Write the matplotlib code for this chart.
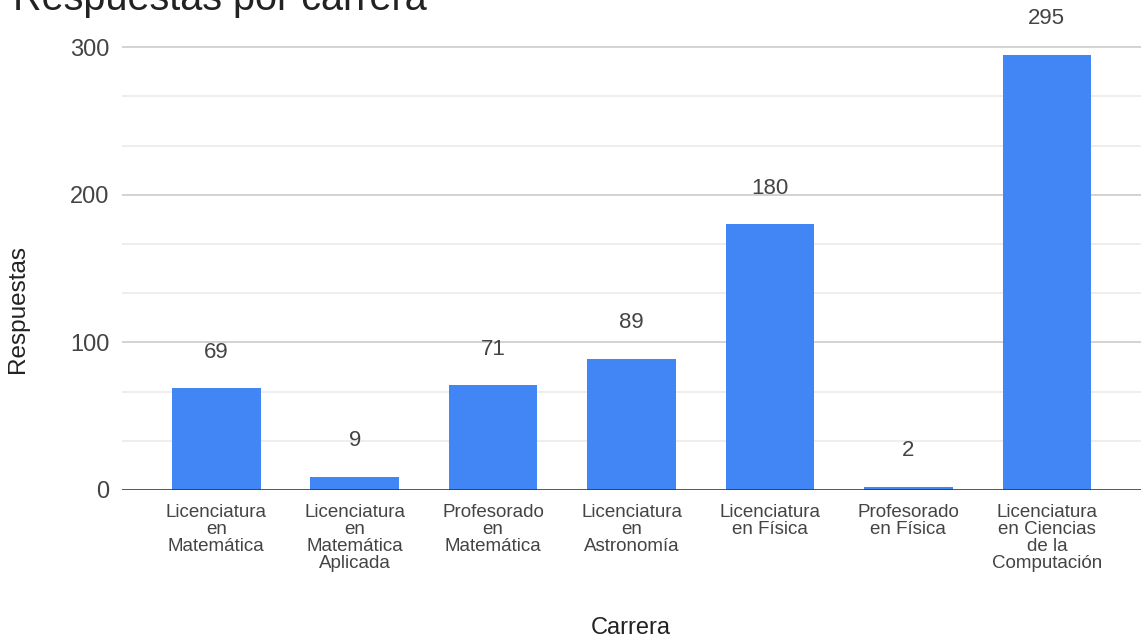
import matplotlib.pyplot as plt
from matplotlib.ticker import MultipleLocator

plt.rcParams['font.family'] = ['Liberation Sans', 'DejaVu Sans']

carreras = ['Licenciatura\nen\nMatemática',
            'Licenciatura\nen\nMatemática\nAplicada',
            'Profesorado\nen\nMatemática',
            'Licenciatura\nen\nAstronomía',
            'Licenciatura\nen Física',
            'Profesorado\nen Física',
            'Licenciatura\nen Ciencias\nde la\nComputación']
respuestas = [69, 9, 71, 89, 180, 2, 295]

fig = plt.figure(figsize=(11.41, 6.43), dpi=100)
ax = fig.add_axes([0.107, 0.238, 0.893, 0.762])

x = range(len(carreras))
bars = ax.bar(x, respuestas, width=0.64, color='#4285f4', zorder=3)
for b, v in zip(bars, respuestas):
    ax.annotate(str(v), (b.get_x() + b.get_width() / 2, v), xytext=(0, 26),
                textcoords='offset points', ha='center', va='center',
                fontsize=16, color='#444444')

ax.set_xlim(-0.68, len(carreras) - 1 + 0.68)
ax.set_ylim(0, 332)
ax.yaxis.set_major_locator(MultipleLocator(100))
ax.yaxis.set_minor_locator(MultipleLocator(100 / 3))
ax.grid(axis='y', which='major', color='#cccccc', linewidth=1.2, zorder=0)
ax.grid(axis='y', which='minor', color='#ebebeb', linewidth=1.2, zorder=0)
ax.axhline(0, color='#333333', linewidth=1.8, zorder=4)

for s in ax.spines.values():
    s.set_visible(False)
ax.tick_params(axis='both', which='both', length=0)
ax.tick_params(axis='y', labelsize=17, labelcolor='#444444', pad=9)
ax.set_xticks(list(x))
ax.set_xticklabels(carreras, fontsize=13.5, color='#444444', linespacing=1.0)
ax.tick_params(axis='x', pad=10)

fig.text(0.016, 0.519, 'Respuestas', fontsize=17.5, color='#222222',
         rotation=90, ha='center', va='center')
fig.text(0.553, 0.023, 'Carrera', fontsize=17, color='#222222',
         ha='center', va='center')
fig.text(0.011, 0.984, 'Respuestas por carrera', fontsize=28.5, color='#222222',
         ha='left', va='baseline')

fig.savefig('out.png', dpi=100)
